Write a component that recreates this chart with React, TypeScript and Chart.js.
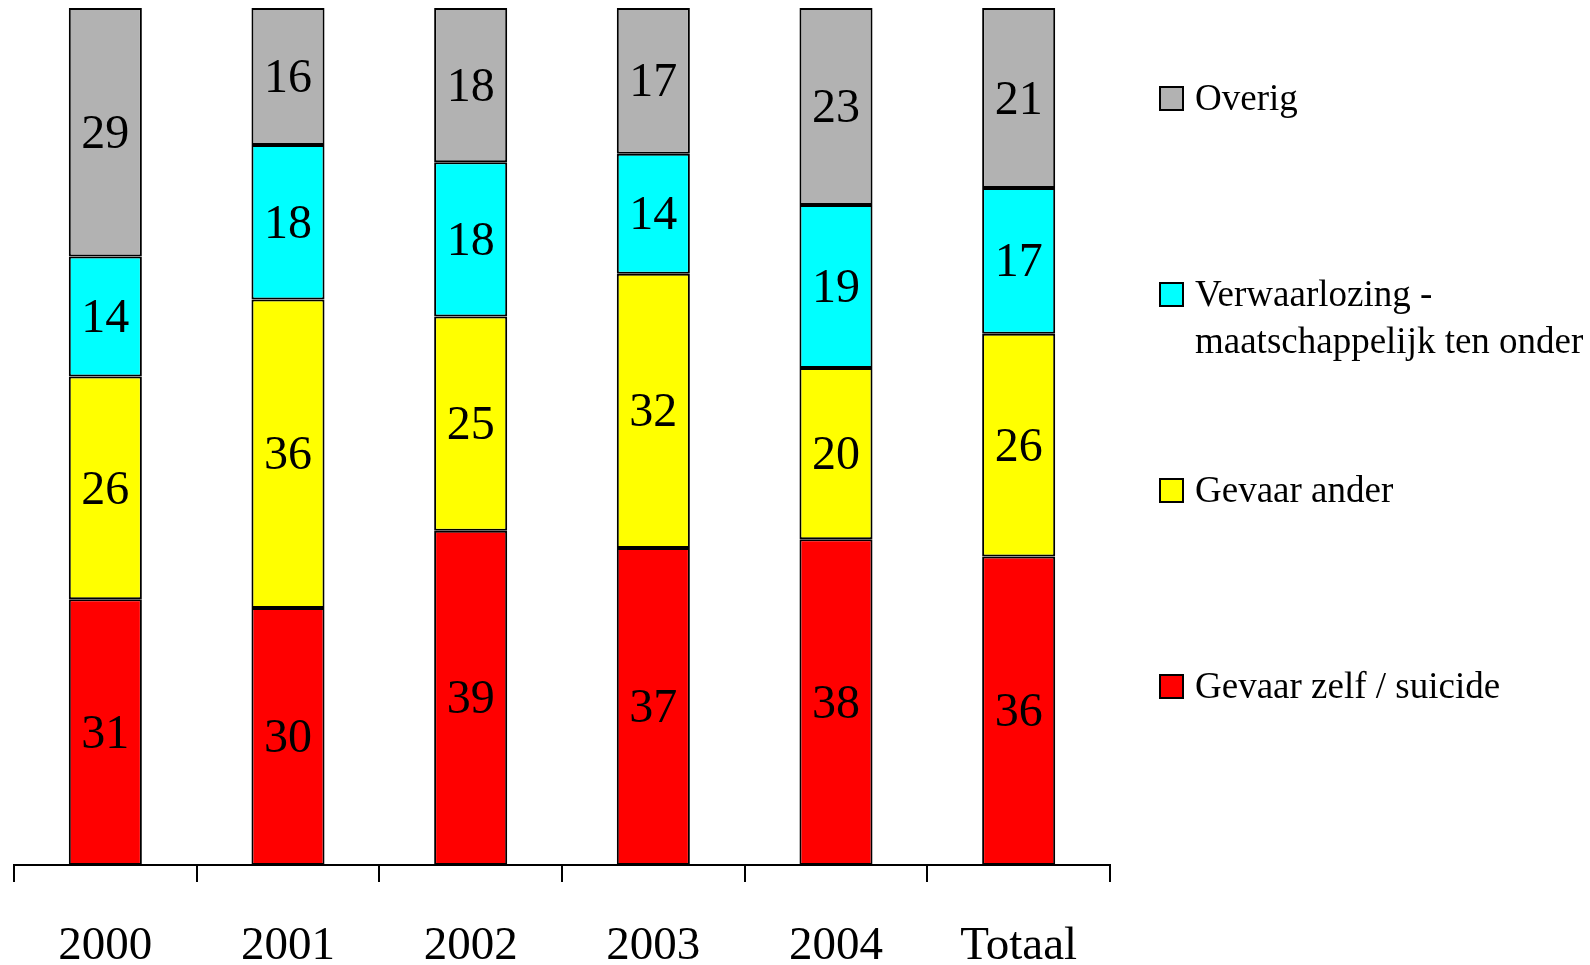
import React, { useEffect, useRef } from "react";
import { Chart, registerables } from "chart.js";

Chart.register(...registerables);

const categories = ["2000", "2001", "2002", "2003", "2004", "Totaal"];
const gevaarZelf = [31, 30, 39, 37, 38, 36];
const gevaarAnder = [26, 36, 25, 32, 20, 26];
const verwaarlozing = [14, 18, 18, 14, 19, 17];
const overig = [29, 16, 18, 17, 23, 21];

const seriesLabels = [
  ["Gevaar zelf / suicide"],
  ["Gevaar ander"],
  ["Verwaarlozing -", "maatschappelijk ten onder"],
  ["Overig"],
];
const seriesColors = ["#FF0000", "#FFFF00", "#00FFFF", "#B2B2B2"];

const FONT = "'Liberation Serif', 'Times New Roman', serif";

const dataLabelPlugin = {
  id: "dataLabels",
  afterDatasetsDraw(chart: any) {
    const ctx = chart.ctx;
    ctx.save();
    ctx.font = `48px ${FONT}`;
    ctx.fillStyle = "#000";
    ctx.textAlign = "center";
    ctx.textBaseline = "middle";
    chart.data.datasets.forEach((ds: any, di: number) => {
      const meta = chart.getDatasetMeta(di);
      meta.data.forEach((el: any, i: number) => {
        const p = el.getProps(["x", "y", "base"], true);
        ctx.fillText(String(ds.data[i]), p.x, (p.y + p.base) / 2 + 3);
      });
    });
    ctx.restore();
  },
};

const legendPlugin = {
  id: "customLegend",
  afterDraw(chart: any) {
    const ctx = chart.ctx;
    const ds = chart.data.datasets.slice().reverse();
    const boxX = 1160;
    const textX = 1195;
    const firstBaseline = 110;
    const step = 196;
    const lineGap = 47;
    const box = 23;
    ctx.save();
    ctx.font = `37px ${FONT}`;
    ctx.textAlign = "left";
    ctx.textBaseline = "alphabetic";
    ds.forEach((d: any, i: number) => {
      const base = firstBaseline + i * step;
      ctx.fillStyle = d.backgroundColor;
      ctx.fillRect(boxX, base - box, box, box);
      ctx.strokeStyle = "#000";
      ctx.lineWidth = 2;
      ctx.strokeRect(boxX, base - box, box, box);
      ctx.fillStyle = "#000";
      (d.legendLines as string[]).forEach((line, li) => {
        ctx.fillText(line, textX, base + li * lineGap);
      });
    });
    ctx.restore();
  },
};

const CANVAS_H = 1011;

export default function App() {
  const ref = useRef<HTMLCanvasElement>(null);
  useEffect(() => {
    if (!ref.current) return;
    const values = [gevaarZelf, gevaarAnder, verwaarlozing, overig];
    const chart = new Chart(ref.current, {
      type: "bar",
      data: {
        labels: categories,
        datasets: values.map((v, i) => ({
          label: seriesLabels[i].join(" "),
          legendLines: seriesLabels[i],
          data: v,
          backgroundColor: seriesColors[i],
          borderColor: "#000",
          borderWidth: 2,
          borderSkipped: false,
          barPercentage: 0.4,
          categoryPercentage: 1,
        })) as any,
      },
      options: {
        responsive: false,
        animation: false,
        layout: { padding: { left: 14, right: 480, top: 8, bottom: 0 } },
        plugins: {
          legend: { display: false },
          tooltip: { enabled: false },
        },
        scales: {
          x: {
            stacked: true,
            offset: true,
            grid: {
              display: true,
              offset: true,
              drawOnChartArea: false,
              drawTicks: true,
              tickLength: 17,
              color: "#000",
              lineWidth: 2,
            },
            border: { display: true, color: "#000", width: 2 },
            ticks: {
              color: "#000",
              padding: 41,
              maxRotation: 0,
              autoSkip: false,
              font: { family: FONT, size: 47, lineHeight: 1 },
            },
          },
          y: {
            stacked: true,
            display: false,
            min: 0,
            max: 100,
          },
        },
      },
      plugins: [dataLabelPlugin, legendPlugin],
    });
    return () => chart.destroy();
  }, []);
  return (
    <div style={{ position: "absolute", left: 0, top: 0, width: 1590, height: 965, overflow: "hidden", background: "#fff" }}>
      <canvas ref={ref} width={1590} height={CANVAS_H} style={{ width: 1590, height: CANVAS_H, display: "block" }} />
    </div>
  );
}
